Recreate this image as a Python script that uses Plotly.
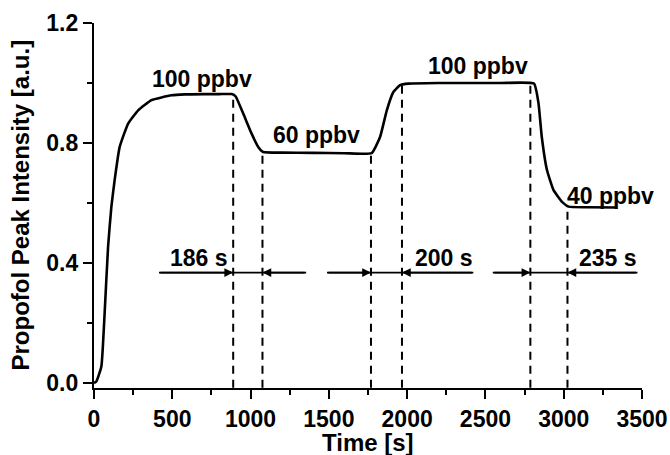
import plotly.graph_objects as go

# Main signal curve
time_s = [0, 15, 47, 68, 90, 111, 132, 164, 218, 282, 367, 495, 580, 700, 800, 880,
          905, 953, 1006, 1049, 1081, 1200, 1400, 1600, 1773, 1827, 1870, 1912, 1955,
          2008, 2200, 2400, 2600, 2810, 2839, 2860, 2893, 2935, 2989, 3031, 3150, 3340]
intensity = [0.0, 0.005, 0.055, 0.234, 0.455, 0.588, 0.677, 0.787, 0.865, 0.909, 0.943,
             0.959, 0.962, 0.963, 0.963, 0.963, 0.955, 0.898, 0.832, 0.787, 0.770, 0.768,
             0.767, 0.766, 0.766, 0.82, 0.909, 0.97, 0.993, 0.998, 1.0, 1.0, 1.0, 0.998,
             0.932, 0.82, 0.71, 0.643, 0.604, 0.588, 0.586, 0.585]

# Vertical dashed marker lines
marker_t = [889, 1076, 1769, 1967, 2787, 3024]
marker_top = [0.963, 0.770, 0.766, 0.99, 1.0, 0.588]
marker_bottom = -0.016

# Response-time arrows
arrow_level = 0.368
arrow_left_tail = [415, 1488, 2547]
arrow_left_head = [889, 1769, 2787]
arrow_right_head = [1076, 1967, 3024]
arrow_right_tail = [1355, 2423, 3471]
response_labels = ["186 s", "200 s", "235 s"]
response_label_t = [670, 2236, 3281]
response_label_v = [0.418, 0.418, 0.418]

# Concentration labels
conc_labels = ["100 ppbv", "60 ppbv", "100 ppbv", "40 ppbv"]
conc_label_t = [687, 1422, 2455, 3300]
conc_label_v = [1.012, 0.828, 1.056, 0.622]

x_ticks = [0, 500, 1000, 1500, 2000, 2500, 3000, 3500]
y_ticks = [0.0, 0.4, 0.8, 1.2]

FONT = "Liberation Sans"

fig = go.Figure()

# dashed vertical lines
dx, dy = [], []
for t, top in zip(marker_t, marker_top):
    dx += [t, t, None]
    dy += [marker_bottom, top, None]
fig.add_trace(go.Scatter(x=dx, y=dy, mode="lines",
                         line=dict(color="black", width=2, dash="8px,6px"),
                         hoverinfo="skip", showlegend=False))

# horizontal arrow lines
hx, hy = [], []
for a, b in zip(arrow_left_tail, arrow_right_tail):
    hx += [a, b, None]
    hy += [arrow_level, arrow_level, None]
fig.add_trace(go.Scatter(x=hx, y=hy, mode="lines",
                         line=dict(color="black", width=1.6),
                         hoverinfo="skip", showlegend=False))

# main curve
fig.add_trace(go.Scatter(x=time_s, y=intensity, mode="lines",
                         line=dict(color="black", width=2.6, shape="spline", smoothing=0.4),
                         showlegend=False))

annotations = []
for tail, head in list(zip(arrow_left_tail, arrow_left_head)) + list(zip(arrow_right_tail, arrow_right_head)):
    annotations.append(dict(x=head, y=arrow_level, ax=tail, ay=arrow_level,
                            xref="x", yref="y", axref="x", ayref="y",
                            text="", showarrow=True, arrowhead=2, arrowsize=1.1,
                            arrowwidth=1.6, arrowcolor="black", standoff=0))
for txt, t, v in zip(response_labels, response_label_t, response_label_v):
    annotations.append(dict(x=t, y=v, xref="x", yref="y", text=txt, showarrow=False,
                            font=dict(family=FONT, size=23, color="black", weight="bold")))
for txt, t, v in zip(conc_labels, conc_label_t, conc_label_v):
    annotations.append(dict(x=t, y=v, xref="x", yref="y", text=txt, showarrow=False,
                            font=dict(family=FONT, size=23, color="black", weight="bold")))

# axis titles as paper annotations
annotations.append(dict(x=-0.135, y=0.5, xref="paper", yref="paper", text="Propofol Peak Intensity [a.u.]",
                        textangle=-90, showarrow=False, xanchor="center", yanchor="middle",
                        font=dict(family=FONT, size=24, color="black", weight="bold")))
annotations.append(dict(x=0.5, y=-0.148, xref="paper", yref="paper", text="Time [s]",
                        showarrow=False, xanchor="center", yanchor="middle",
                        font=dict(family=FONT, size=24, color="black", weight="bold")))

axis_common = dict(showline=True, linecolor="black", linewidth=2.2, ticks="outside",
                   tickcolor="black", tickwidth=2, ticklen=9, showgrid=False, zeroline=False,
                   tickfont=dict(family=FONT, size=23, color="black", weight="bold"),
                   mirror=False, automargin=False)

fig.update_xaxes(range=[0, 3500], tickvals=x_ticks, ticktext=[str(v) for v in x_ticks],
                 minor=dict(ticks="outside", ticklen=5, tickwidth=2, tickcolor="black", dtick=250, showgrid=False),
                 **axis_common)
fig.update_yaxes(range=[-0.0166, 1.2], tickvals=y_ticks, ticktext=[f"{v:.1f}" for v in y_ticks],
                 minor=dict(ticks="outside", ticklen=5, tickwidth=2, tickcolor="black", dtick=0.2, tick0=0, showgrid=False),
                 **axis_common)

fig.update_layout(width=670, height=455, margin=dict(l=94, r=28, t=23, b=67),
                  paper_bgcolor="white", plot_bgcolor="white",
                  annotations=annotations, showlegend=False)

fig.write_html("out.html", config={"displayModeBar": False},
               post_script="document.body.style.margin='0';")
